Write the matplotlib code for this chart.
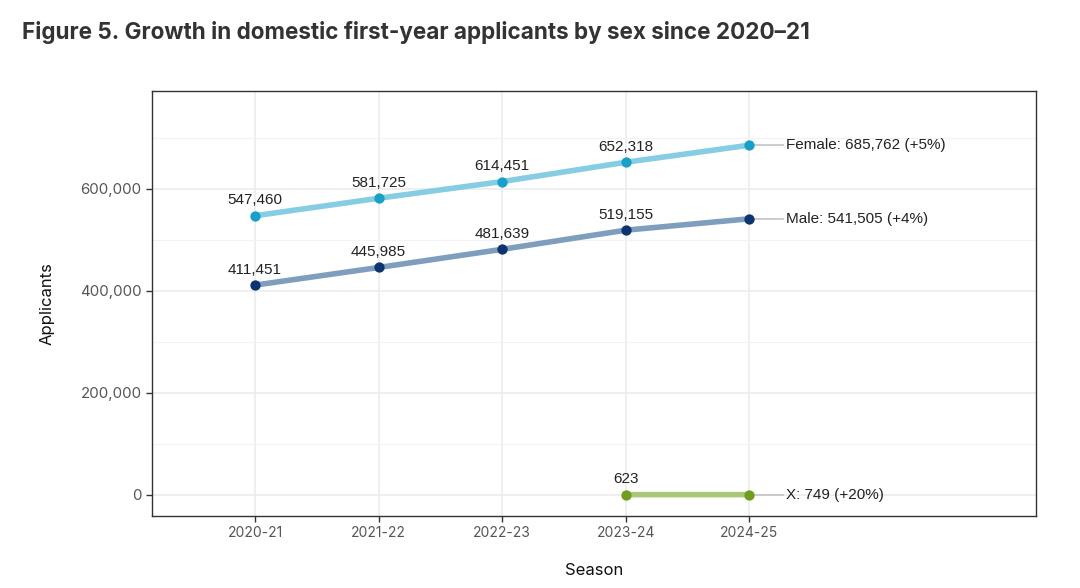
import matplotlib
matplotlib.use("Agg")
import matplotlib.pyplot as plt
from matplotlib.ticker import FuncFormatter, FixedLocator

seasons = ["2020-21", "2021-22", "2022-23", "2023-24", "2024-25"]
female = [547460, 581725, 614451, 652318, 685762]
male = [411451, 445985, 481639, 519155, 541505]
x_seasons = ["2023-24", "2024-25"]
x_vals = [623, 749]
end_labels = ["Female: 685,762 (+5%)", "Male: 541,505 (+4%)", "X: 749 (+20%)"]

W, H = 1080, 588
fig = plt.figure(figsize=(W / 100, H / 100), dpi=100)
ax = fig.add_axes([152 / W, 1 - 516 / H, (1036 - 152) / W, (516 - 91) / H])

pos = {s: i for i, s in enumerate(seasons)}
xf = [pos[s] for s in seasons]
xx = [pos[s] for s in x_seasons]

series = [
    (xf, female, "#86cde3", "#17a0c9", end_labels[0]),
    (xf, male, "#7f9dbd", "#0b3470", end_labels[1]),
    (xx, x_vals, "#a9c878", "#6f9d1c", end_labels[2]),
]

ax.set_xlim(-0.834, 6.32)
ax.set_ylim(-41200, 792000)

for xs, ys, lc, pc, lab in series:
    ax.plot(xs, ys, color=lc, lw=4, solid_capstyle="butt", zorder=3)
    ax.scatter(xs, ys, s=55, color=pc, zorder=4, linewidths=0)
    for xi, yi in zip(xs[:-1], ys[:-1]):
        ax.annotate(f"{yi:,}", (xi, yi), xytext=(0, 6), textcoords="offset points",
                    ha="center", va="bottom", fontsize=11, family="Liberation Sans",
                    color="#222222", zorder=5)
    xe, ye = xs[-1], ys[-1]
    ax.plot([xe, xe + 0.27], [ye, ye], color="#c8c8c8", lw=1.3, zorder=2)
    ax.annotate(lab, (xe + 0.3, ye), ha="left", va="center", fontsize=11,
                family="Liberation Sans", color="#222222", zorder=5)

ax.set_xticks(range(len(seasons)))
ax.set_xticklabels(seasons)
ax.set_yticks([0, 200000, 400000, 600000])
ax.yaxis.set_major_formatter(FuncFormatter(lambda v, p: f"{int(v):,}"))
ax.yaxis.set_minor_locator(FixedLocator([100000, 300000, 500000, 700000]))

ax.grid(True, which="major", color="#ebebeb", lw=1.1, zorder=0)
ax.grid(True, which="minor", axis="y", color="#f3f3f3", lw=0.8, zorder=0)
ax.tick_params(which="minor", length=0)
ax.tick_params(which="major", length=4, width=1, color="#333333",
               labelsize=10, labelcolor="#555555")
ax.tick_params(axis="y", labelsize=10.8)
for lbl in ax.get_xticklabels() + ax.get_yticklabels():
    lbl.set_family("Inter")
for sp in ax.spines.values():
    sp.set_color("#333333")
    sp.set_linewidth(1)
ax.set_axisbelow(True)

ax.set_ylabel("Applicants", fontsize=12, family="Inter", color="#111111", labelpad=18)
ax.set_xlabel("Season", fontsize=12, family="Inter", color="#111111", labelpad=16)

fig.text(22 / W, 1 - 33 / H, "Figure 5. Growth in domestic first-year applicants by sex since 2020\u201321",
         fontsize=16.2, fontweight="bold", family="Inter", color="#333333", va="center", ha="left")

fig.savefig("out.png", dpi=100, facecolor="white")
